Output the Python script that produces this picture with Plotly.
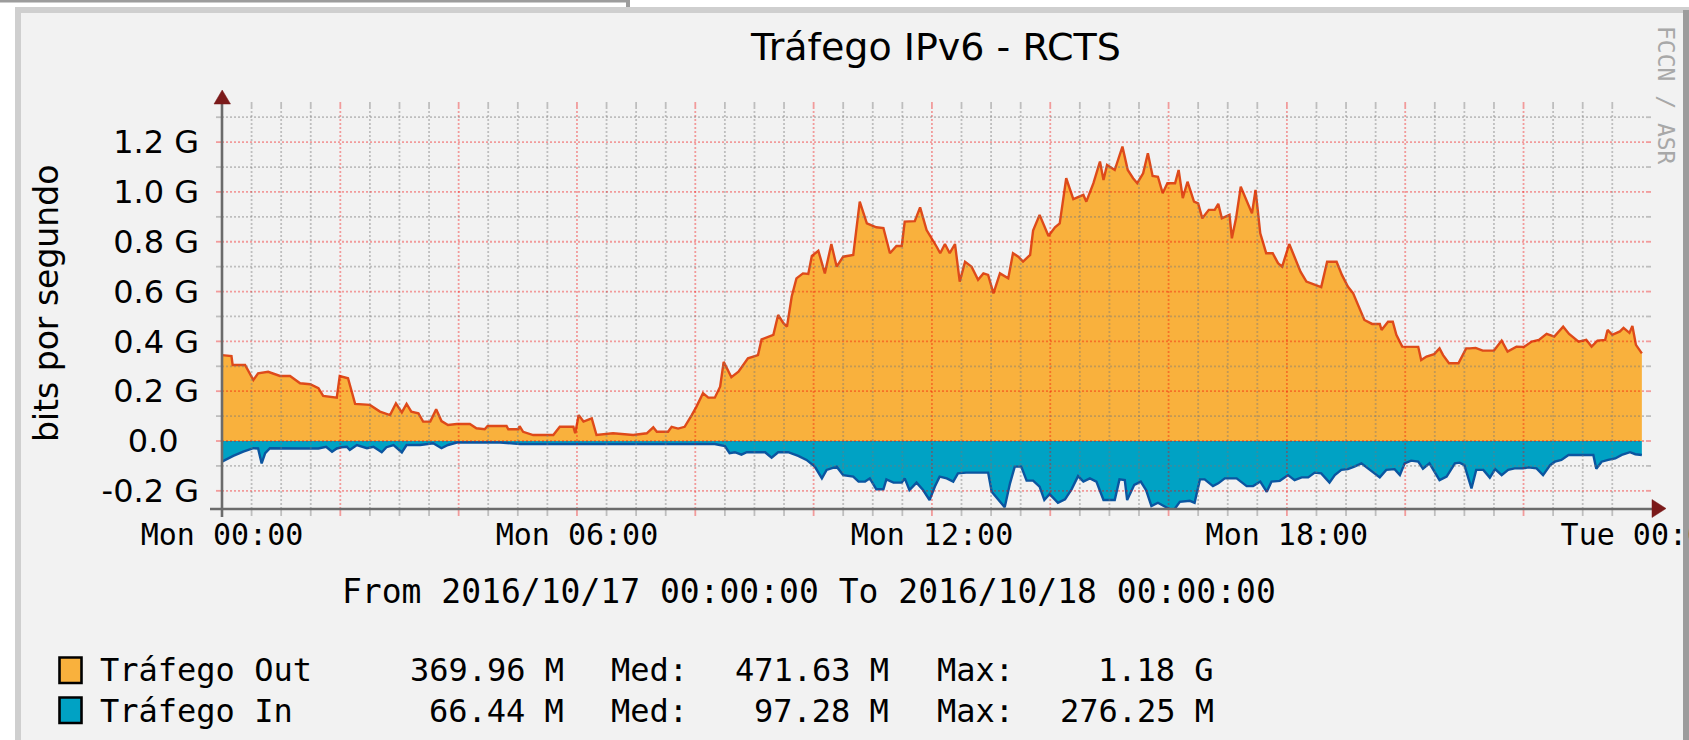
import pandas as pd
import plotly.graph_objects as go

# ---------------- data ----------------
START = pd.Timestamp("2016-10-17 00:00:00")

out_hours = [0.00, 0.16, 0.18, 0.39, 0.53, 0.61, 0.78, 0.98, 1.15, 1.32, 1.49, 1.63, 1.71, 1.94, 1.99,
             2.13, 2.25, 2.50, 2.67, 2.84, 2.94, 3.04, 3.12, 3.20, 3.32, 3.40, 3.52, 3.62, 3.71, 3.82,
             3.97, 4.19, 4.30, 4.44, 4.49, 4.81, 4.84, 5.01, 5.03, 5.09, 5.26, 5.60, 5.71, 5.94, 5.97,
             6.03, 6.11, 6.25, 6.33, 6.61, 6.95, 7.18, 7.29, 7.35, 7.54, 7.60, 7.71, 7.82, 7.94, 8.02,
             8.13, 8.22, 8.33, 8.42, 8.48, 8.61, 8.73, 8.89, 9.06, 9.12, 9.32, 9.40, 9.49, 9.55, 9.63,
             9.71, 9.82, 9.91, 9.97, 10.08, 10.19, 10.30, 10.39, 10.50, 10.67, 10.78, 10.90, 11.06,
             11.18, 11.29, 11.40, 11.49, 11.54, 11.71, 11.80, 11.91, 12.08, 12.14, 12.22, 12.30, 12.39,
             12.47, 12.56, 12.67, 12.78, 12.87, 12.95, 13.04, 13.15, 13.29, 13.37, 13.46, 13.54, 13.66,
             13.71, 13.82, 13.97, 14.08, 14.16, 14.27, 14.39, 14.56, 14.61, 14.73, 14.84, 14.90, 14.96,
             15.09, 15.22, 15.31, 15.40, 15.47, 15.57, 15.65, 15.73, 15.82, 15.90, 15.98, 16.11, 16.17,
             16.24, 16.32, 16.43, 16.50, 16.57, 16.68, 16.78, 16.84, 16.90, 17.03, 17.07, 17.14, 17.22,
             17.33, 17.41, 17.47, 17.55, 17.65, 17.76, 17.85, 17.92, 18.04, 18.14, 18.23, 18.33, 18.46,
             18.58, 18.68, 18.84, 18.93, 19.03, 19.12, 19.22, 19.31, 19.44, 19.57, 19.60, 19.71, 19.79,
             19.85, 19.95, 20.11, 20.22, 20.27, 20.36, 20.49, 20.58, 20.64, 20.74, 20.90, 21.03, 21.09,
             21.19, 21.31, 21.50, 21.63, 21.73, 21.88, 22.01, 22.14, 22.26, 22.39, 22.52, 22.67, 22.77,
             22.93, 23.06, 23.15, 23.25, 23.38, 23.42, 23.50, 23.63, 23.69, 23.79, 23.84, 23.90, 24.00]
out_gbps = [0.345, 0.341, 0.305, 0.305, 0.245, 0.272, 0.278, 0.261, 0.261, 0.232, 0.228, 0.212, 0.181, 0.174, 0.261,
            0.252, 0.149, 0.145, 0.118, 0.104, 0.151, 0.115, 0.149, 0.118, 0.111, 0.078, 0.078, 0.127, 0.080, 0.064,
            0.068, 0.068, 0.051, 0.047, 0.060, 0.060, 0.047, 0.047, 0.060, 0.037, 0.024, 0.024, 0.057, 0.057, 0.031,
            0.104, 0.078, 0.091, 0.024, 0.031, 0.024, 0.031, 0.055, 0.037, 0.037, 0.057, 0.050, 0.057, 0.104, 0.138,
            0.192, 0.174, 0.174, 0.218, 0.318, 0.256, 0.278, 0.332, 0.345, 0.408, 0.426, 0.506, 0.473, 0.459, 0.580,
            0.653, 0.673, 0.671, 0.743, 0.764, 0.673, 0.791, 0.700, 0.740, 0.747, 0.961, 0.874, 0.858,
            0.855, 0.754, 0.783, 0.783, 0.881, 0.883, 0.938, 0.847, 0.780, 0.754, 0.791, 0.754, 0.791,
            0.640, 0.720, 0.700, 0.647, 0.673, 0.667, 0.593, 0.673, 0.653, 0.754, 0.740, 0.720, 0.747,
            0.845, 0.908, 0.823, 0.858, 0.874, 1.055, 0.971, 0.988, 0.961, 1.035, 1.122, 1.048, 1.108,
            1.088, 1.182, 1.088, 1.055, 1.035, 1.075, 1.155, 1.064, 1.061, 0.995, 1.035, 1.035, 1.088,
            0.975, 1.041, 0.961, 0.954, 0.894, 0.928, 0.928, 0.952, 0.894, 0.908, 0.814, 0.894, 1.021,
            0.961, 0.914, 1.008, 0.834, 0.754, 0.754, 0.714, 0.700, 0.791, 0.734, 0.680, 0.640, 0.627,
            0.618, 0.720, 0.720, 0.667, 0.620, 0.593, 0.533, 0.486, 0.470, 0.470, 0.446, 0.479, 0.479,
            0.426, 0.379, 0.378, 0.378, 0.325, 0.339, 0.349, 0.372, 0.345, 0.312, 0.312, 0.372, 0.372,
            0.374, 0.363, 0.363, 0.403, 0.359, 0.379, 0.378, 0.399, 0.406, 0.430, 0.419, 0.459, 0.430,
            0.399, 0.406, 0.379, 0.403, 0.406, 0.446, 0.426, 0.440, 0.454, 0.434, 0.462, 0.386, 0.352]

in_hours = [0.00, 0.19, 0.36, 0.53, 0.61, 0.67, 0.73, 0.81, 1.32, 1.63, 1.76, 1.86, 1.94, 2.02, 2.11, 2.16,
            2.28, 2.45, 2.56, 2.70, 2.78, 2.90, 3.04, 3.12, 3.35, 3.57, 3.71, 3.82, 3.97, 4.70, 5.04, 6.39,
            6.95, 7.51, 8.08, 8.33, 8.50, 8.58, 8.67, 8.78, 8.87, 9.18, 9.29, 9.40, 9.57, 9.74, 9.88, 10.02,
            10.14, 10.22, 10.39, 10.50, 10.67, 10.76, 10.87, 10.95, 11.06, 11.18, 11.23, 11.35, 11.49, 11.54,
            11.62, 11.74, 11.85, 11.96, 12.05, 12.13, 12.25, 12.36, 12.44, 12.58, 12.75, 12.95, 13.01, 13.12,
            13.23, 13.32, 13.40, 13.51, 13.60, 13.71, 13.82, 13.90, 13.99, 14.13, 14.25, 14.36, 14.47, 14.56,
            14.67, 14.78, 14.90, 15.09, 15.17, 15.26, 15.30, 15.42, 15.53, 15.62, 15.71, 15.82, 15.93, 16.02,
            16.10, 16.19, 16.36, 16.44, 16.53, 16.61, 16.75, 16.84, 16.95, 17.15, 17.32, 17.43, 17.55, 17.66,
            17.74, 17.88, 18.02, 18.13, 18.25, 18.36, 18.47, 18.58, 18.72, 18.81, 18.92, 19.03, 19.14, 19.26,
            19.37, 19.48, 19.57, 19.68, 19.82, 19.91, 19.99, 20.10, 20.22, 20.30, 20.41, 20.58, 20.70, 20.84,
            20.92, 21.00, 21.12, 21.20, 21.32, 21.43, 21.52, 21.63, 21.74, 21.85, 21.99, 22.08, 22.22, 22.33,
            22.45, 22.53, 22.64, 22.76, 22.90, 23.06, 23.18, 23.23, 23.32, 23.43, 23.55, 23.66, 23.80, 23.89,
            24.00]
in_gbps = [0.083, 0.060, 0.043, 0.029, 0.030, 0.090, 0.049, 0.029, 0.030, 0.030, 0.023, 0.043, 0.030, 0.025, 0.023, 0.036,
           0.016, 0.029, 0.023, 0.045, 0.025, 0.016, 0.046, 0.016, 0.016, 0.009, 0.029, 0.016, 0.006, 0.006, 0.012, 0.012,
           0.009, 0.012, 0.009, 0.012, 0.020, 0.049, 0.045, 0.055, 0.045, 0.045, 0.067, 0.045, 0.045, 0.060, 0.076, 0.103,
           0.150, 0.116, 0.103, 0.137, 0.143, 0.163, 0.163, 0.150, 0.194, 0.194, 0.154, 0.167, 0.167, 0.150,
           0.197, 0.167, 0.197, 0.237, 0.183, 0.143, 0.150, 0.163, 0.130, 0.127, 0.127, 0.127, 0.204, 0.237,
           0.266, 0.170, 0.103, 0.103, 0.159, 0.159, 0.183, 0.237, 0.213, 0.248, 0.234, 0.194, 0.141, 0.163,
           0.150, 0.163, 0.237, 0.237, 0.154, 0.157, 0.237, 0.176, 0.163, 0.197, 0.261, 0.248, 0.261, 0.274,
           0.274, 0.244, 0.240, 0.248, 0.154, 0.154, 0.181, 0.170, 0.150, 0.150, 0.181, 0.181, 0.163, 0.204,
           0.163, 0.160, 0.137, 0.157, 0.146, 0.146, 0.127, 0.130, 0.167, 0.137, 0.116, 0.113, 0.103, 0.090,
           0.110, 0.130, 0.146, 0.116, 0.113, 0.137, 0.090, 0.079, 0.083, 0.111, 0.090, 0.157, 0.143, 0.090,
           0.087, 0.097, 0.190, 0.116, 0.116, 0.147, 0.113, 0.137, 0.116, 0.110, 0.110, 0.106, 0.110, 0.137,
           0.097, 0.083, 0.076, 0.056, 0.056, 0.053, 0.056, 0.111, 0.083, 0.076, 0.070, 0.056, 0.045, 0.053,
           0.056]

y_tick_vals = [-0.2, 0.0, 0.2, 0.4, 0.6, 0.8, 1.0, 1.2]
y_tick_text = ["-0.2 G", "0.0\u00a0\u00a0", "0.2 G", "0.4 G", "0.6 G", "0.8 G", "1.0 G", "1.2 G"]
x_tick_hours = [0, 6, 12, 18, 24]
x_tick_text = ["Mon 00:00", "Mon 06:00", "Mon 12:00", "Mon 18:00", "Tue 00:00"]

legend_names = ["Tráfego Out", "Tráfego In"]
legend_last = ["369.96 M", "66.44 M"]
legend_med = ["471.63 M", "97.28 M"]
legend_max = ["1.18 G", "276.25 M"]

title_text = "Tráfego IPv6 - RCTS"
y_title = "bits por segundo"
period_text = "From 2016/10/17 00:00:00 To 2016/10/18 00:00:00"
watermark = "FCCN / ASR"

# ---------------- styling ----------------
W, H = 1689, 740
L, R, T, B = 222, 1646, 109, 509            # plot box in px
X_END_HOURS = 24.07
Y_RANGE = [-0.273, 1.333]

ORANGE = "#F9B13D"
ORANGE_LINE = "#DE4A1A"
BLUE = "#00A2C4"
BLUE_LINE = "#0B55A0"
MAJOR = "rgba(240,0,0,0.36)"
MINOR = "rgba(120,120,120,0.42)"
AXIS = "#6B6B6B"
ARROW = "#7B1A1A"
MONO = "DejaVu Sans Mono"
SANS = "DejaVu Sans"


def px_x(x):
    return (x - L) / (R - L)


def px_y(y):
    return (B - y) / (B - T)


def t_of(h):
    return START + pd.Timedelta(hours=h)


out_t = [t_of(h) for h in out_hours]
in_t = [t_of(h) for h in in_hours]

fig = go.Figure()
fig.add_trace(go.Scatter(x=out_t, y=out_gbps, mode="lines", fill="tozeroy", fillcolor=ORANGE,
                         line=dict(color=ORANGE_LINE, width=2.4), hoverinfo="skip", showlegend=False))
fig.add_trace(go.Scatter(x=in_t, y=[-v for v in in_gbps], mode="lines", fill="tozeroy", fillcolor=BLUE,
                         line=dict(color=BLUE_LINE, width=2.4), hoverinfo="skip", showlegend=False))

shapes = []


def rect(x0, y0, x1, y1, fill, line_color=None, lw=0, layer="below"):
    shapes.append(dict(type="rect", xref="paper", yref="paper",
                       x0=px_x(x0), x1=px_x(x1), y0=px_y(y1), y1=px_y(y0),
                       fillcolor=fill, line=dict(color=line_color or fill, width=lw), layer=layer))


# panel decoration
rect(15, 7, 1689, 740, "#CFCFCF")
rect(1683, 10, 1689, 740, "#9C9C9C")
rect(21, 13, 1683, 740, "#F2F2F2")
rect(0, 0, 629, 2.5, "#9C9C9C")
rect(626, 0, 630, 7, "#9C9C9C")

tick_px_v = 7 / (B - T)
tick_px_h = 6 / (R - L)

# vertical grid (every 30 min, red every 2 h)
for k in range(1, 48):
    h = k * 0.5
    c = MAJOR if k % 4 == 0 else MINOR
    t = t_of(h)
    shapes.append(dict(type="line", xref="x", yref="paper", x0=t, x1=t, y0=0, y1=1,
                       line=dict(color=c, width=1.8, dash="2px,2px"), layer="above"))
    shapes.append(dict(type="line", xref="x", yref="paper", x0=t, x1=t, y0=1, y1=1 + tick_px_v,
                       line=dict(color=c, width=1.8), layer="above"))
    shapes.append(dict(type="line", xref="x", yref="paper", x0=t, x1=t, y0=-tick_px_v, y1=0,
                       line=dict(color=c, width=1.8), layer="above"))

# horizontal grid (every 0.1 G, red every 0.2 G)
for k in range(-2, 14):
    v = k / 10
    c = MAJOR if k % 2 == 0 else MINOR
    shapes.append(dict(type="line", xref="paper", yref="y", x0=0, x1=1, y0=v, y1=v,
                       line=dict(color=c, width=1.8, dash="2px,2px"), layer="above"))
    shapes.append(dict(type="line", xref="paper", yref="y", x0=-tick_px_h, x1=0, y0=v, y1=v,
                       line=dict(color=c, width=1.8), layer="above"))
    shapes.append(dict(type="line", xref="paper", yref="y", x0=1, x1=1 + 5 / (R - L), y0=v, y1=v,
                       line=dict(color=c, width=1.8), layer="above"))

# axes lines and arrows
shapes.append(dict(type="line", xref="paper", yref="paper", x0=px_x(222), x1=px_x(222),
                   y0=px_y(517), y1=px_y(102), line=dict(color=AXIS, width=2.6), layer="above"))
shapes.append(dict(type="line", xref="paper", yref="paper", x0=px_x(210), x1=px_x(1653),
                   y0=px_y(509), y1=px_y(509), line=dict(color=AXIS, width=2.6), layer="above"))
shapes.append(dict(type="path", xref="paper", yref="paper",
                   path=f"M {px_x(214)} {px_y(104)} L {px_x(230.5)} {px_y(104)} L {px_x(222.2)} {px_y(90)} Z",
                   fillcolor=ARROW, line=dict(color=ARROW, width=0.5), layer="above"))
shapes.append(dict(type="path", xref="paper", yref="paper",
                   path=f"M {px_x(1652)} {px_y(499.5)} L {px_x(1652)} {px_y(517.5)} L {px_x(1666)} {px_y(508.5)} Z",
                   fillcolor=ARROW, line=dict(color=ARROW, width=0.5), layer="above"))

# legend swatches
for i, (fill, y0) in enumerate([(ORANGE, 657.5), (BLUE, 697.5)]):
    rect(59.5, y0, 81.5, y0 + 25.5, fill, line_color="black", lw=2.6, layer="above")

annotations = []


def text(x, y, s, size, family, anchor="left", color="black", angle=0):
    annotations.append(dict(xref="paper", yref="paper", x=px_x(x), y=px_y(y), text=s,
                            showarrow=False, xanchor=anchor, yanchor="middle", textangle=angle,
                            font=dict(family=family, size=size, color=color)))


text(935, 47, title_text, 38, SANS, anchor="center")
text(46, 304, y_title, 33, SANS, anchor="center", angle=-90)
text(809, 591, period_text, 33, MONO, anchor="center")
text(1666, 95, watermark, 23, MONO, anchor="center", color="#A8A8A8", angle=90)

for i, yrow in enumerate([670, 710.5]):
    text(98, yrow, legend_names[i], 32, MONO)
    text(566, yrow, legend_last[i], 32, MONO, anchor="right")
    text(609, yrow, "Med:", 32, MONO)
    text(891, yrow, legend_med[i], 32, MONO, anchor="right")
    text(935, yrow, "Max:", 32, MONO)
    text(1216, yrow, legend_max[i], 32, MONO, anchor="right")

fig.update_layout(
    template="none",
    width=W, height=H,
    margin=dict(l=L, r=W - R, t=T, b=H - B, pad=0),
    paper_bgcolor="white", plot_bgcolor="white",
    showlegend=False,
    shapes=shapes,
    annotations=annotations,
)
fig.update_xaxes(
    type="date", range=[t_of(0), t_of(X_END_HOURS)],
    tickmode="array", tickvals=[t_of(h) for h in x_tick_hours], ticktext=x_tick_text,
    ticks="", showgrid=False, zeroline=False, showline=False,
    tickfont=dict(family=MONO, size=30, color="black"),
    ticklabeloverflow="allow", ticklabelstandoff=5, fixedrange=True,
)
fig.update_yaxes(
    range=Y_RANGE,
    tickmode="array", tickvals=y_tick_vals, ticktext=y_tick_text,
    ticks="", showgrid=False, zeroline=False, showline=False,
    tickfont=dict(family=SANS, size=32, color="black"),
    ticklabelstandoff=22, fixedrange=True,
)

fig.write_html("out.html", config={"displayModeBar": False},
               post_script="document.body.style.margin='0px';document.body.style.overflow='hidden';")
